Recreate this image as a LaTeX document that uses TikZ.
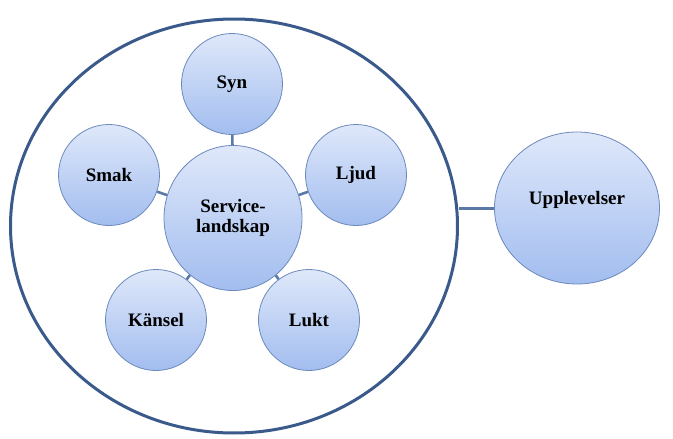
\documentclass[tikz,border=0pt]{standalone}
\usepackage{fontspec}
\setmainfont{Liberation Serif}
\usetikzlibrary{shapes.geometric}
\definecolor{outercol}{HTML}{3B5A8C}
\definecolor{linkcol}{HTML}{5A78A8}
\definecolor{rimcol}{HTML}{6B89BC}
\definecolor{topc}{HTML}{DFE8FA}
\definecolor{botc}{HTML}{A2BDEF}
\tikzset{
  bubble/.style={ellipse, draw=rimcol, line width=0.8pt, top color=topc, bottom color=botc,
    inner sep=0pt, font=\fontsize{19}{20}\selectfont\bfseries, align=center},
  small/.style={bubble, minimum width=101pt, minimum height=101pt},
  link/.style={draw=linkcol, line width=2.6pt},
}
\begin{document}
\begin{tikzpicture}[x=1pt,y=-1pt]
\useasboundingbox (0,0) rectangle (673,439);
\node[ellipse, draw=outercol, line width=3pt, minimum width=447pt, minimum height=414pt] (outer) at (234,226) {};
\node[bubble, minimum width=165pt, minimum height=152pt] (upp) at (577,208) {\raisebox{20pt}{Upplevelser}};
\node[bubble, minimum width=138pt, minimum height=145pt] (serv) at (233,218) {Service-\\landskap};
\node[small] (syn) at (232,84) {Syn};
\node[small] (smak) at (109,175) {Smak};
\node[small] (ljud) at (356,175) {Ljud};
\node[small] (kansel) at (156,320) {Känsel};
\node[small] (lukt) at (309,320) {Lukt};
\draw[link] (serv) -- (syn);
\draw[link] (serv) -- (smak);
\draw[link] (serv) -- (ljud);
\draw[link] (serv) -- (kansel);
\draw[link] (serv) -- (lukt);
\draw[draw=linkcol, line width=3pt] (outer.east |- upp.west) -- (upp.west);
\end{tikzpicture}
\end{document}
